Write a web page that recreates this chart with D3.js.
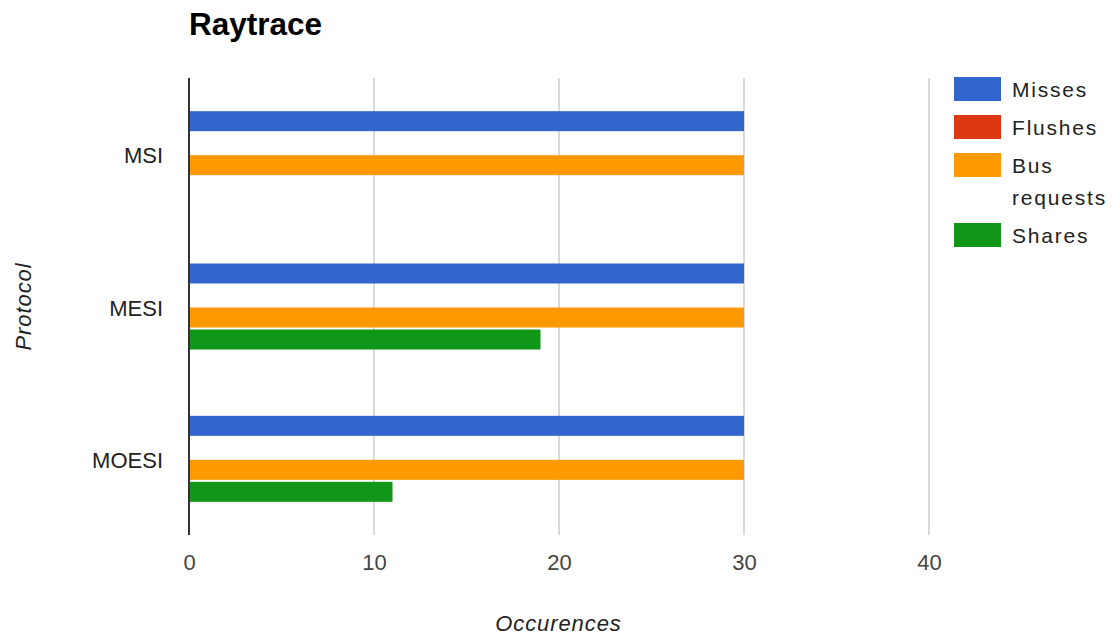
<!DOCTYPE html>
<html>
<head>
<meta charset="utf-8">
<script src="https://cdn.jsdelivr.net/npm/d3@7"></script>
<style>
  html, body { margin: 0; padding: 0; background: #fff; }
  svg { display: block; font-family: Arial, "Liberation Sans", sans-serif; }
</style>
</head>
<body>
<svg id="chart" width="1113" height="635"></svg>
<script>
// Raytrace: coherence protocol event counts
const protocols = ["MSI", "MESI", "MOESI"];
const seriesNames = ["Misses", "Flushes", "Bus requests", "Shares"];
const seriesColors = ["#3366cc", "#dc3912", "#ff9900", "#109618"];
const misses      = [30, 30, 30];
const flushes     = [0, 0, 0];
const busRequests = [30, 30, 30];
const shares      = [0, 19, 11];
const xTicks = [0, 10, 20, 30, 40];
const legendLines = [["Misses"], ["Flushes"], ["Bus", "requests"], ["Shares"]];

const seriesValues = [misses, flushes, busRequests, shares];

const svg = d3.select("#chart");
const plot = { left: 189, right: 929, top: 78, bottom: 535 };

const x = d3.scaleLinear().domain([0, 40]).range([plot.left, plot.right]);
const y = d3.scaleBand().domain(protocols).range([plot.top, plot.bottom]).padding(0);
const yInner = d3.scaleBand()
  .domain(seriesNames)
  .range([0, y.bandwidth()])
  .paddingInner(0.0909)
  .paddingOuter(1.507);

// Vertical gridlines
svg.append("g")
  .selectAll("line")
  .data(xTicks.filter(t => t !== 0))
  .join("line")
  .attr("x1", d => x(d)).attr("x2", d => x(d))
  .attr("y1", plot.top).attr("y2", plot.bottom)
  .attr("stroke", "#cccccc")
  .attr("stroke-width", 1.5);

// Bars
const groups = svg.append("g")
  .selectAll("g")
  .data(protocols)
  .join("g")
  .attr("transform", d => `translate(0,${y(d)})`);

groups.selectAll("rect")
  .data((p, i) => seriesNames.map((s, j) => ({ series: s, value: seriesValues[j][i], color: seriesColors[j] })))
  .join("rect")
  .attr("x", x(0))
  .attr("y", d => yInner(d.series))
  .attr("width", d => x(d.value) - x(0))
  .attr("height", yInner.bandwidth())
  .attr("fill", d => d.color);

// Baseline axis
svg.append("line")
  .attr("x1", x(0)).attr("x2", x(0))
  .attr("y1", plot.top).attr("y2", plot.bottom)
  .attr("stroke", "#333333")
  .attr("stroke-width", 2);

// X tick labels
const xAxis = d3.axisBottom(x).tickValues(xTicks).tickSize(0).tickPadding(0);
const gx = svg.append("g")
  .attr("transform", `translate(0,${plot.bottom})`)
  .call(xAxis);
gx.select(".domain").remove();
gx.selectAll("text")
  .attr("dy", null)
  .attr("y", 35)
  .attr("fill", "#444444")
  .attr("font-size", 22)
  .attr("font-family", "Arial, 'Liberation Sans', sans-serif");

// Category labels
const yAxis = d3.axisLeft(y).tickSize(0).tickPadding(0);
const gy = svg.append("g")
  .attr("transform", `translate(${plot.left - 26},0)`)
  .call(yAxis);
gy.select(".domain").remove();
gy.selectAll("text")
  .attr("dy", null)
  .attr("y", 9)
  .attr("fill", "#222222")
  .attr("font-size", 22)
  .attr("font-family", "Arial, 'Liberation Sans', sans-serif");

// Title
svg.append("text")
  .attr("x", 189).attr("y", 35)
  .attr("font-size", 31.5)
  .attr("font-weight", "bold")
  .attr("fill", "#000")
  .text("Raytrace");

// Axis titles
svg.append("text")
  .attr("x", (plot.left + plot.right) / 2 - 0.5)
  .attr("y", 631)
  .attr("text-anchor", "middle")
  .attr("font-size", 22)
  .attr("font-style", "italic")
  .attr("letter-spacing", 0.9)
  .attr("fill", "#222222")
  .text("Occurences");

svg.append("text")
  .attr("transform", `translate(31,${(plot.top + plot.bottom) / 2}) rotate(-90)`)
  .attr("text-anchor", "middle")
  .attr("font-size", 22)
  .attr("font-style", "italic")
  .attr("letter-spacing", 0.9)
  .attr("fill", "#222222")
  .text("Protocol");

// Legend
const legendRowsY = [77, 115, 153, 223];
const legend = svg.append("g");
seriesNames.forEach((name, i) => {
  const row = legend.append("g").attr("transform", `translate(954,${legendRowsY[i]})`);
  row.append("rect")
    .attr("width", 47).attr("height", 24)
    .attr("fill", seriesColors[i]);
  const t = row.append("text")
    .attr("x", 58).attr("y", 20)
    .attr("font-size", 21)
    .attr("letter-spacing", 1.8)
    .attr("fill", "#222222");
  legendLines[i].forEach((line, k) => {
    t.append("tspan").attr("x", 58).attr("dy", k === 0 ? 0 : 32).text(line);
  });
});
</script>
</body>
</html>
